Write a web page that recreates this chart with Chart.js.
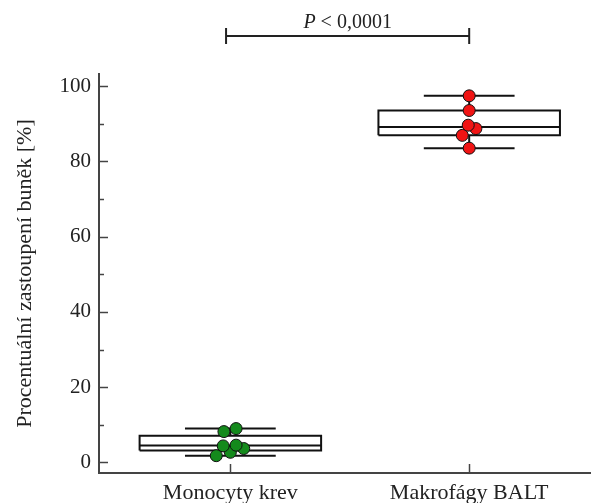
<!DOCTYPE html>
<html>
<head>
<meta charset="utf-8">
<script src="https://cdn.jsdelivr.net/npm/chart.js@4/dist/chart.umd.min.js"></script>
<style>
  html, body { margin: 0; padding: 0; background: #fff; overflow: hidden; }
  canvas { display: block; }
</style>
</head>
<body>
<canvas id="myChart" width="591" height="503"></canvas>
<script>
const skupiny = ['Monocyty krev', 'Makrofágy BALT'];
const barvy = ['#148a1c', '#f01414'];

// krabicové grafy: minimum, dolní kvartil, medián, horní kvartil, maximum
const minima = [1.8, 83.5];
const dolniKvartil = [3.2, 86.9];
const mediany = [4.5, 89.1];
const horniKvartil = [7.1, 93.5];
const maxima = [9.0, 97.4];

// jednotlivá měření a jejich vodorovný posun
const hodnoty = [
    [1.8, 2.7, 3.7, 4.4, 4.6, 8.2, 9.0],
    [83.5, 86.9, 88.7, 89.6, 93.5, 97.4]
];
const posuny = [
    [-0.059, 0, 0.056, -0.03, 0.024, -0.027, 0.024],
    [0, -0.029, 0.028, -0.004, 0, 0]
];

const yTicks = [0, 10, 20, 30, 40, 50, 60, 70, 80, 90, 100];
const yPopisky = [0, 20, 40, 60, 80, 100];
const pHodnota = '0,0001';

const FONT = "'Liberation Serif', 'Times New Roman', serif";
const SIRKA_BOXU = 0.38;
const SIRKA_FOUSU = 0.19;

function usecka(data) {
    return {
        type: 'scatter',
        data: data,
        showLine: true,
        borderColor: '#111',
        borderWidth: 2,
        pointRadius: 0,
        order: 2
    };
}

let datasets = [];
skupiny.forEach((s, i) => {
    datasets.push({
        type: 'scatter',
        label: s,
        data: hodnoty[i].map((v, j) => ({x: i + posuny[i][j], y: v})),
        backgroundColor: barvy[i],
        borderColor: '#111',
        borderWidth: 1,
        pointRadius: 6,
        order: 0
    });
    // krabice
    datasets.push(usecka([
        {x: i - SIRKA_BOXU, y: dolniKvartil[i]},
        {x: i + SIRKA_BOXU, y: dolniKvartil[i]},
        {x: i + SIRKA_BOXU, y: horniKvartil[i]},
        {x: i - SIRKA_BOXU, y: horniKvartil[i]},
        {x: i - SIRKA_BOXU, y: dolniKvartil[i]}
    ]));
    datasets.push(usecka([{x: i - SIRKA_BOXU, y: mediany[i]}, {x: i + SIRKA_BOXU, y: mediany[i]}]));
    // fousy
    datasets.push(usecka([{x: i, y: horniKvartil[i]}, {x: i, y: maxima[i]}]));
    datasets.push(usecka([{x: i, y: minima[i]}, {x: i, y: dolniKvartil[i]}]));
    datasets.push(usecka([{x: i - SIRKA_FOUSU, y: maxima[i]}, {x: i + SIRKA_FOUSU, y: maxima[i]}]));
    datasets.push(usecka([{x: i - SIRKA_FOUSU, y: minima[i]}, {x: i + SIRKA_FOUSU, y: minima[i]}]));
});

// krátké značky os směřující dovnitř grafu + závorka s p-hodnotou
const znacky = {
    id: 'znacky',
    afterDraw(chart) {
        const ctx = chart.ctx;
        const xs = chart.scales.x;
        const ys = chart.scales.y;
        const area = chart.chartArea;
        ctx.save();
        ctx.strokeStyle = '#444';
        ctx.lineWidth = 1.5;
        yTicks.forEach(t => {
            const y = Math.round(ys.getPixelForValue(t)) + 0.5;
            const len = t % 20 === 0 ? 9 : 5;
            ctx.beginPath();
            ctx.moveTo(area.left, y);
            ctx.lineTo(area.left + len, y);
            ctx.stroke();
        });
        skupiny.forEach((s, i) => {
            const x = Math.round(xs.getPixelForValue(i)) + 0.5;
            ctx.beginPath();
            ctx.moveTo(x, area.bottom);
            ctx.lineTo(x, area.bottom - 9);
            ctx.stroke();
        });

        const x0 = xs.getPixelForValue(-0.018);
        const x1 = xs.getPixelForValue(1);
        const yb = 36;
        ctx.strokeStyle = '#222';
        ctx.lineWidth = 2;
        ctx.beginPath();
        ctx.moveTo(x0, yb);
        ctx.lineTo(x1, yb);
        ctx.moveTo(x0, yb - 8);
        ctx.lineTo(x0, yb + 8);
        ctx.moveTo(x1, yb - 8);
        ctx.lineTo(x1, yb + 8);
        ctx.stroke();

        ctx.fillStyle = '#222';
        ctx.textBaseline = 'alphabetic';
        ctx.textAlign = 'left';
        const fItal = 'italic 20px ' + FONT;
        const fNorm = '20px ' + FONT;
        const zbytek = ' < ' + pHodnota;
        ctx.font = fItal;
        const w1 = ctx.measureText('P').width;
        ctx.font = fNorm;
        const w2 = ctx.measureText(zbytek).width;
        let x = (x0 + x1) / 2 - (w1 + w2) / 2;
        ctx.font = fItal;
        ctx.fillText('P', x, 28);
        ctx.font = fNorm;
        ctx.fillText(zbytek, x + w1, 28);
        ctx.restore();
    }
};

const ctx = document.getElementById('myChart').getContext('2d');
new Chart(ctx, {
    data: {datasets: datasets},
    options: {
        responsive: false,
        animation: false,
        layout: {autoPadding: false, padding: {top: 74, left: 0, right: 0, bottom: 0}},
        plugins: {
            legend: {display: false},
            tooltip: {enabled: false}
        },
        scales: {
            x: {
                type: 'linear',
                min: -0.55,
                max: 1.51,
                afterBuildTicks: (scale) => { scale.ticks = skupiny.map((s, i) => ({value: i})); },
                afterFit: (scale) => {
                    scale.height = 30;
                    scale.paddingLeft = 0;
                    scale.paddingRight = 0;
                },
                grid: {display: false, drawTicks: false},
                border: {display: true, color: '#444', width: 2},
                ticks: {
                    autoSkip: false,
                    maxRotation: 0,
                    padding: 7,
                    color: '#222',
                    font: {family: FONT, size: 22},
                    callback: (v) => skupiny[v]
                }
            },
            y: {
                type: 'linear',
                min: -2.8,
                max: 103.2,
                afterBuildTicks: (scale) => { scale.ticks = yTicks.map(v => ({value: v})); },
                afterFit: (scale) => {
                    scale.width = 99;
                    scale.paddingTop = 0;
                    scale.paddingBottom = 0;
                },
                grid: {display: false, drawTicks: false},
                border: {display: true, color: '#444', width: 2},
                ticks: {
                    autoSkip: false,
                    padding: 8,
                    color: '#222',
                    font: {family: FONT, size: 21},
                    callback: (v) => yPopisky.includes(v) ? String(v) : ''
                },
                title: {
                    display: true,
                    text: 'Procentuální zastoupení buněk [%]',
                    color: '#222',
                    font: {family: FONT, size: 22},
                    padding: {top: 12, bottom: 0}
                }
            }
        }
    },
    plugins: [znacky]
});
</script>
</body>
</html>
